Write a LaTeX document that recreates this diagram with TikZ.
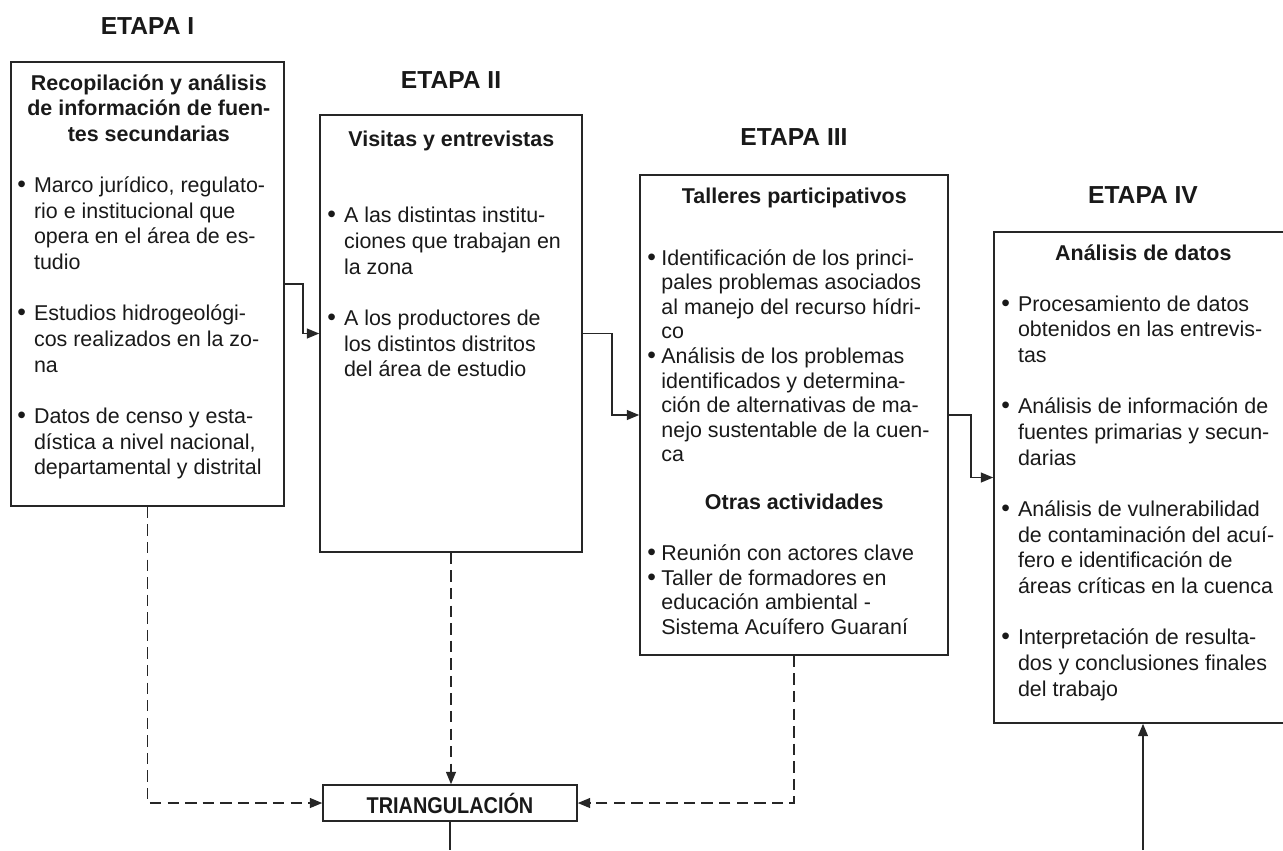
\documentclass[tikz,border=0pt]{standalone}
\usepackage{graphicx}
\usepackage{fontspec}
\setmainfont{Liberation Sans}
\usetikzlibrary{arrows.meta, positioning, fit}

\newcommand{\bodyfont}{\fontsize{12.2}{14.6}\selectfont}
\newcommand{\tightfont}{\fontsize{12.2}{14}\selectfont}
\newcommand{\bul}[2][9.5pt]{\par\noindent\hangindent=#1\hangafter=1\makebox[#1][l]{\fontsize{14}{14}\selectfont\textbullet}#2\par}
\hyphenpenalty=10000

\begin{document}
\begin{tikzpicture}[x=0.02cm, y=-0.02cm,
  box/.style={draw=black!85, line width=0.9pt, inner sep=0pt},
  txt/.style={anchor=base west, inner sep=0pt, font=\bodyfont, text=black!90},
  etapa/.style={font=\fontsize{14}{16}\selectfont\bfseries, text=black!90},
  link/.style={draw=black!85, line width=0.85pt, -{Triangle[length=7pt,width=5.6pt]}},
  dlink/.style={link, dash pattern=on 6.5pt off 3.5pt}]

\useasboundingbox (0,0) rectangle (1283,850);

% Stage titles
\node[etapa] (h1) at (147.5,26) {ETAPA I};
\node[etapa] (h2) at (451,80) {ETAPA II};
\node[etapa] (h3) at (794,137) {ETAPA III};
\node[etapa] (h4) at (1143,195) {ETAPA IV};

% Stage boxes
\node[box, fit={(11,62) (284,506)}] (e1) {};
\node[box, fit={(320,115) (582,552)}] (e2) {};
\node[box, fit={(640,175) (948,655)}] (e3) {};
\node[box, fit={(994,232) (1292,723)}] (e4) {};
\node[box, minimum width=5.08cm, minimum height=0.72cm, font=\fontsize{13}{15}\selectfont\bfseries, text=black!90] (tri) at (450,803) {\scalebox{0.87}[1]{TRIANGULACIÓN}};

% Box contents
\node[txt] (t1) at (17,90) {\parbox[t]{5.26cm}{\centering\bfseries
Recopilación y análisis\\ de información de fuen-\\ tes secundarias\par
\raggedright\mdseries
\vspace{\baselineskip}
\bul{Marco jurídico, regulato-\newline rio e institucional que\newline opera en el área de es-\newline tudio}
\vspace{\baselineskip}
\bul{Estudios hidrogeológi-\newline cos realizados en la zo-\newline na}
\vspace{\baselineskip}
\bul{Datos de censo y esta-\newline dística a nivel nacional,\newline departamental y distrital}}};

\node[txt] (t2) at (327,146) {\parbox[t]{4.96cm}{\centering\bfseries
Visitas y entrevistas\par
\raggedright\mdseries
\vspace{2\baselineskip}
\bul{A las distintas institu-\newline ciones que trabajan en\newline la zona}
\vspace{\baselineskip}
\bul{A los productores de\newline los distintos distritos\newline del área de estudio}}};

\node[txt, font=\tightfont] (t3) at (647,203) {\parbox[t]{5.88cm}{\centering\bfseries
Talleres participativos\par
\raggedright\mdseries
\vspace{21.3pt}
\bul[8pt]{Identificación de los princi-\newline pales problemas asociados\newline al manejo del recurso hídri-\newline co}
\bul[8pt]{Análisis de los problemas\newline identificados y determina-\newline ción de alternativas de ma-\newline nejo sustentable de la cuen-\newline ca}
\vspace{13.3pt}
\centering\bfseries Otras actividades\par
\raggedright\mdseries
\vspace{15pt}
\bul[8pt]{Reunión con actores clave}
\bul[8pt]{Taller de formadores en\newline educación ambiental -\newline Sistema Acuífero Guaraní}}};

\node[txt] (t4) at (1001,260) {\parbox[t]{5.68cm}{\centering\bfseries
Análisis de datos\par
\raggedright\mdseries
\vspace{\baselineskip}
\bul{Procesamiento de datos\newline obtenidos en las entrevis-\newline tas}
\vspace{\baselineskip}
\bul{Análisis de información de\newline fuentes primarias y secun-\newline darias}
\vspace{\baselineskip}
\bul{Análisis de vulnerabilidad\newline de contaminación del acuí-\newline fero e identificación de\newline áreas críticas en la cuenca}
\vspace{\baselineskip}
\bul{Interpretación de resulta-\newline dos y conclusiones finales\newline del trabajo}}};

% Stage to stage
\draw[link] (e1.east) -- ++(18,0) |- (e2.west);
\draw[link] (e2.east) -- ++(29,0) |- (e3.west);
\draw[link] (e3.east) -- ++(22,0) |- (e4.west);

% Triangulation
\draw[dlink] (e1.south) |- (tri.west);
\draw[dlink] (e2.south) -- (e2.south |- tri.north);
\draw[dlink] (e3.south) |- (tri.east);
\coordinate (out) at (450,850);
\coordinate (in4) at (1143,850);
\draw[link, -] (tri.south) -- (out);
\draw[link] (in4) -- (in4 |- e4.south);

\end{tikzpicture}
\end{document}
